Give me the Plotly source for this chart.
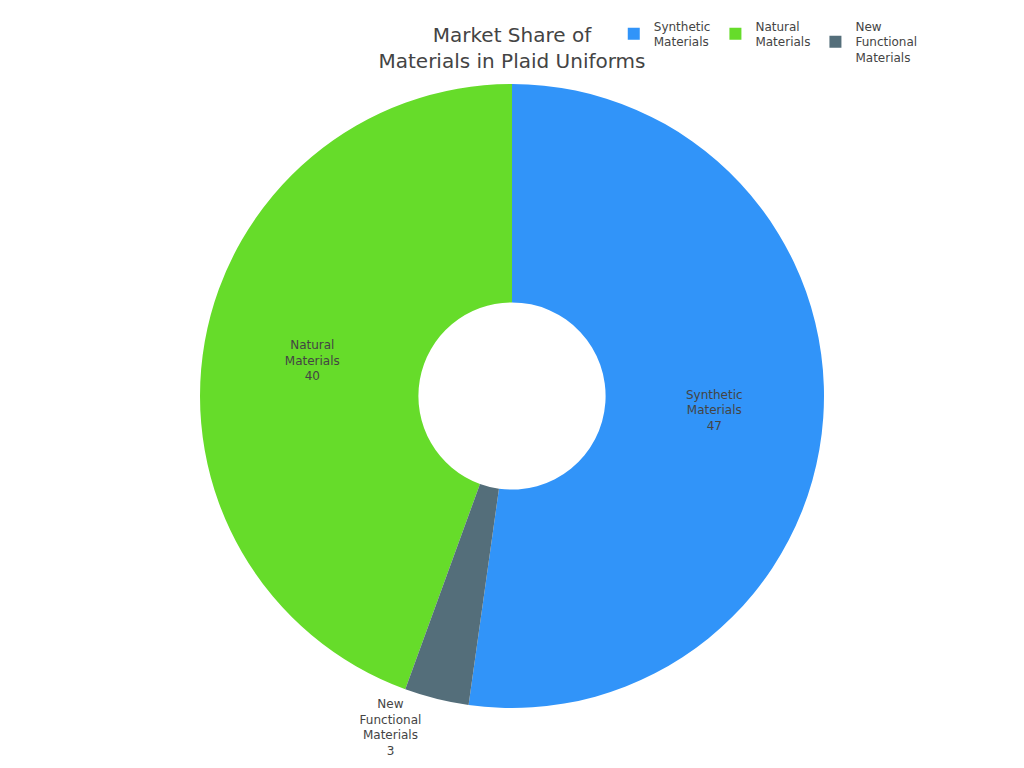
import plotly.graph_objects as go

# Market share data
labels = ['Synthetic<br>Materials', 'Natural<br>Materials', 'New<br>Functional<br>Materials']
values = [47, 40, 3]
colors = ['#3194F9', '#66DC2A', '#546E7A']

fig = go.Figure(data=[go.Pie(
    labels=labels,
    values=values,
    hole=0.3,
    marker=dict(colors=colors),
    textinfo='label+value',
    textfont=dict(size=12),
)])

fig.update_layout(
    title=dict(text='Market Share of<br>Materials in Plaid Uniforms', x=0.5, xanchor='center',
               y=0.955, font=dict(size=20)),
    font=dict(family='DejaVu Sans', color='#444'),
    legend=dict(orientation='h', x=0.62, y=0.995, yref='container', xanchor='left', yanchor='top'),
    margin=dict(t=76, b=52, l=80, r=80, autoexpand=False),
    paper_bgcolor='white',
)

fig.write_html("out.html")
